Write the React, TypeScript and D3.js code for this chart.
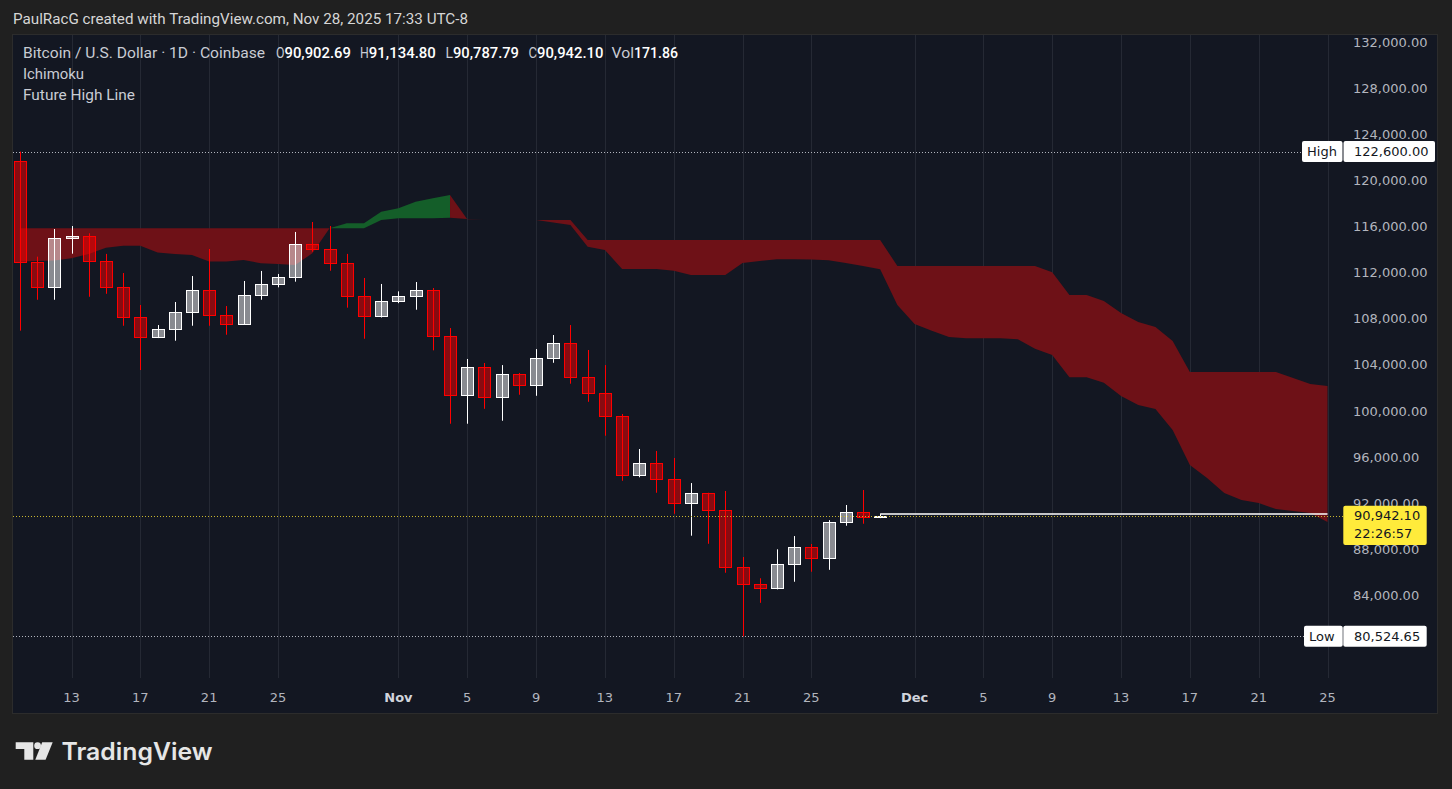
import React from "react";
import * as d3 from "d3";

// ---------- DATA ----------
const candleStart = "2025-10-10T00:00:00Z";
const opens = [121780, 113000, 110820, 115075, 115245, 113080, 110820, 108215, 106475, 107175, 108655, 110560, 108395, 107605, 110120, 111080, 111690, 114555, 114115, 112910, 110045, 108305, 109605, 110045, 110560, 106565, 101445, 103870, 101265, 103265, 102315, 104660, 105960, 103005, 101615, 99620, 94500, 95545, 94150, 92070, 92940, 91465, 86515, 85035, 84695, 86770, 88250, 87290, 90425, 91290, 90902.69];
const highs = [122600, 113480, 115880, 116140, 115510, 113720, 112060, 109285, 107545, 109545, 111800, 114145, 109195, 111370, 112240, 111980, 115625, 116490, 116140, 113720, 111630, 111110, 110470, 111280, 110760, 107285, 104600, 104250, 104070, 103385, 105460, 106680, 107545, 105380, 104070, 99820, 96785, 96615, 96005, 93830, 92990, 93140, 87410, 85565, 88080, 89230, 88540, 90615, 91925, 93225, 91134.8];
const lows = [107060, 109740, 109740, 113740, 110000, 110260, 107485, 103640, 106415, 106185, 107485, 107485, 106705, 107550, 109740, 110820, 111310, 113915, 112260, 109055, 106355, 108200, 109445, 108875, 105350, 98980, 98980, 100275, 99240, 101495, 101405, 104270, 102455, 100885, 97940, 94030, 94330, 92990, 91165, 89260, 88560, 86045, 80524.65, 83435, 84600, 85265, 86135, 86300, 90125, 90300, 90787.79];
const closes = [113000, 110820, 115075, 115245, 113080, 110820, 108215, 106475, 107175, 108655, 110560, 108395, 107605, 110120, 111080, 111690, 114555, 114115, 112910, 110045, 108305, 109605, 110045, 110560, 106565, 101445, 103870, 101265, 103265, 102315, 104660, 105960, 103005, 101615, 99620, 94500, 95545, 94150, 92070, 92940, 91465, 86515, 85035, 84695, 86770, 88250, 87290, 90425, 91290, 90902.69, 90942.1];

// Ichimoku leading spans (cloud), daily from Oct 10 to Dec 25
const cloudStart = "2025-10-10T00:00:00Z";
const spanA = [113065, 113110, 113150, 113340, 113715, 114260, 114435, 114435, 113845, 113715, 113630, 113050, 113050, 113195, 112910, 112850, 112760, 113775, 115945, 116380, 116380, 117385, 117680, 118255, 118550, 118835, 116720, 116720, 116720, 116720, 116665, 116450, 116235, 114350, 114065, 112415, 112415, 112415, 112265, 111890, 111890, 111890, 112935, 113110, 113255, 113255, 113240, 113170, 112935, 112675, 112390, 109285, 107635, 107055, 106505, 106395, 106395, 106395, 106305, 105490, 104945, 103005, 103005, 102535, 101385, 100600, 100255, 98430, 95395, 94265, 92965, 92355, 92095, 91575, 91400, 91225, 90445];
const spanB = [115945, 115945, 115945, 115945, 115945, 115945, 115945, 115945, 115945, 115945, 115945, 115945, 115945, 115945, 115945, 115945, 115945, 115945, 115945, 115945, 115945, 116665, 116815, 116815, 116815, 116865, 116760, 116720, 116720, 116720, 116665, 116665, 116665, 114930, 114930, 114930, 114930, 114930, 114930, 114930, 114930, 114930, 114930, 114930, 114930, 114930, 114930, 114930, 114930, 114930, 114930, 112675, 112675, 112675, 112675, 112675, 112675, 112675, 112675, 112675, 112125, 110150, 110150, 109630, 108590, 107810, 107375, 106160, 103470, 103470, 103470, 103470, 103470, 103470, 102950, 102430, 102255];

const priceTicks = [132000, 128000, 124000, 120000, 116000, 112000, 108000, 104000, 100000, 96000, 92000, 88000, 84000];
const timeTickDates = ["2025-10-13", "2025-10-17", "2025-10-21", "2025-10-25", "2025-11-01", "2025-11-05", "2025-11-09", "2025-11-13", "2025-11-17", "2025-11-21", "2025-11-25", "2025-12-01", "2025-12-05", "2025-12-09", "2025-12-13", "2025-12-17", "2025-12-21", "2025-12-25"];
const timeTickLabels = ["13", "17", "21", "25", "Nov", "5", "9", "13", "17", "21", "25", "Dec", "5", "9", "13", "17", "21", "25"];

const rangeHigh = 122600;
const rangeLow = 80524.65;
const lastPrice = 90942.1;
const countdown = "22:26:57";
const futureHigh = 91134.8;

const headerText = "PaulRacG created with TradingView.com, Nov 28, 2025 17:33 UTC-8";
const symbolText = "Bitcoin / U.S. Dollar \u00b7 1D \u00b7 Coinbase";
const ohlcLabels = ["O", "H", "L", "C", "Vol"];
const ohlcValues = ["90,902.69", "91,134.80", "90,787.79", "90,942.10", "171.86"];
const indicatorNames = ["Ichimoku", "Future High Line"];

// ---------- STYLE ----------
const PAGE_BG = "#202020";
const PLOT_BG = "#131722";
const GRID = "#252934";
const AXIS_TEXT = "#b2b5be";
const CLOUD_RED = "#6e1117";
const CLOUD_GREEN = "#145e29";
const AXIS_FONT = "'DejaVu Sans', sans-serif";
const UI_FONT = "Roboto, 'Noto Sans', sans-serif";

const fmt = d3.format(",.2f");

export default function App() {
  const x = d3
    .scaleUtc()
    .domain([new Date("2025-10-13T00:00:00Z"), new Date("2025-12-25T00:00:00Z")])
    .range([71.5, 1327.5]);
  const y = d3.scaleLinear().domain([84000, 132000]).range([596.3, 43.3]);

  const cStart = new Date(candleStart);
  const candleX = opens.map((_, i) => x(d3.utcDay.offset(cStart, i)));
  const clStart = new Date(cloudStart);
  const cloudX = spanA.map((_, i) => x(d3.utcDay.offset(clStart, i)));

  // group cloud segments into runs of the same colour
  const runs: { bull: boolean; from: number; to: number }[] = [];
  for (let i = 0; i < spanA.length - 1; i++) {
    const bull = spanA[i + 1] > spanB[i + 1];
    const last = runs[runs.length - 1];
    if (last && last.bull === bull) last.to = i + 1;
    else runs.push({ bull, from: i, to: i + 1 });
  }
  const area = d3
    .area<number>()
    .x((i) => cloudX[i])
    .y0((i) => y(spanA[i]))
    .y1((i) => y(spanB[i]));

  const yHigh = Math.round(y(rangeHigh)) + 0.5;
  const yLow = Math.round(y(rangeLow)) + 0.5;
  const yLast = Math.round(y(lastPrice)) + 0.5;
  const lastIdx = opens.length - 1;
  const xFutureStart = candleX[lastIdx];
  const xFutureEnd = cloudX[cloudX.length - 1];

  const legendXs = [276, 360, 445.5, 528.5, 611.5];
  const valueXs = [284.5, 368.8, 453, 537, 634];
  const valueWs = [66.5, 67, 66, 66.5, 44];
  const labelWs = [8.5, 8.8, 7.5, 8.5, 22.5];

  return (
    <svg
      width={1452}
      height={789}
      style={{ position: "absolute", left: 0, top: 0, display: "block" }}
    >
      <rect x={0} y={0} width={1452} height={789} fill={PAGE_BG} />
      <text x={13} y={23.5} fill="#d6d6d6" fontFamily={UI_FONT} fontSize={14.5} textLength={455} lengthAdjust="spacingAndGlyphs">
        {headerText}
      </text>

      {/* chart panel */}
      <rect x={12.5} y={34.5} width={1425} height={679} fill={PLOT_BG} stroke="#2c2c2c" strokeWidth={1} />

      {/* vertical grid */}
      {timeTickDates.map((d, i) => {
        const gx = Math.round(x(new Date(d + "T00:00:00Z"))) + 0.5;
        return <line key={"g" + i} x1={gx} x2={gx} y1={35} y2={678} stroke={GRID} strokeWidth={1} />;
      })}

      {/* Ichimoku cloud */}
      {runs.map((r, i) => (
        <path
          key={"c" + i}
          d={area(d3.range(r.from, r.to + 1)) || ""}
          fill={r.bull ? CLOUD_GREEN : CLOUD_RED}
        />
      ))}

      {/* candles */}
      {opens.map((o, i) => {
        const c = closes[i];
        const up = c >= o;
        const stroke = up ? "#ffffff" : "#ff0000";
        const fill = up ? "rgba(255,255,255,0.5)" : "rgba(255,0,0,0.5)";
        const cx = Math.round(candleX[i]);
        const yt = Math.round(y(Math.max(o, c)));
        const yb = Math.round(y(Math.min(o, c)));
        const yh = y(highs[i]);
        const yl = y(lows[i]);
        const bh = Math.max(1, yb - yt);
        return (
          <g key={"k" + i}>
            <rect x={cx} y={yh} width={1} height={Math.max(0.5, yl - yh)} fill={stroke} />
            <rect x={cx - 5.5} y={yt + 0.5} width={12} height={bh} fill={fill} stroke={stroke} strokeWidth={1} />
          </g>
        );
      })}

      {/* high / low / last price lines */}
      <line x1={13} x2={1302} y1={yHigh} y2={yHigh} stroke="#b2b5be" strokeWidth={1} strokeDasharray="1 2" />
      <line x1={13} x2={1304} y1={yLow} y2={yLow} stroke="#b2b5be" strokeWidth={1} strokeDasharray="1 2" />
      <line x1={13} x2={1343} y1={yLast} y2={yLast} stroke="#c7b52f" strokeWidth={1} strokeDasharray="1 2" />

      {/* Future High Line */}
      <line x1={xFutureStart} x2={xFutureEnd} y1={y(futureHigh)} y2={y(futureHigh)} stroke="#ffffff" strokeWidth={1.5} />

      {/* price axis labels */}
      {priceTicks.map((p) => (
        <text key={"p" + p} x={1353} y={y(p) + 3.6} fill={AXIS_TEXT} fontFamily={AXIS_FONT} fontSize={13}>
          {fmt(p)}
        </text>
      ))}

      {/* time axis labels */}
      {timeTickDates.map((d, i) => {
        const lx = x(new Date(d + "T00:00:00Z"));
        const month = timeTickLabels[i] === "Nov" || timeTickLabels[i] === "Dec";
        return (
          <text
            key={"t" + i}
            x={lx}
            y={701.5}
            textAnchor="middle"
            fill={month ? "#d1d4dc" : AXIS_TEXT}
            fontWeight={month ? "bold" : "normal"}
            fontFamily={AXIS_FONT}
            fontSize={13}
          >
            {timeTickLabels[i]}
          </text>
        );
      })}

      {/* High label */}
      <g>
        <rect x={1302} y={y(rangeHigh) - 10.5} width={40.5} height={21} rx={2} fill="#ffffff" />
        <rect x={1343.5} y={y(rangeHigh) - 10.5} width={91.5} height={21} rx={2} fill="#ffffff" />
        <text x={1307} y={y(rangeHigh) + 4.6} fill="#131722" fontFamily={AXIS_FONT} fontSize={13}>High</text>
        <text x={1354} y={y(rangeHigh) + 4.6} fill="#131722" fontFamily={AXIS_FONT} fontSize={13}>{fmt(rangeHigh)}</text>
      </g>
      {/* Low label */}
      <g>
        <rect x={1304} y={y(rangeLow) - 10.5} width={38.7} height={21} rx={2} fill="#ffffff" />
        <rect x={1343.3} y={y(rangeLow) - 10.5} width={83.4} height={21} rx={2} fill="#ffffff" />
        <text x={1309} y={y(rangeLow) + 4.6} fill="#131722" fontFamily={AXIS_FONT} fontSize={13}>Low</text>
        <text x={1354} y={y(rangeLow) + 4.6} fill="#131722" fontFamily={AXIS_FONT} fontSize={13}>{fmt(rangeLow)}</text>
      </g>
      {/* last price label */}
      <g>
        <rect x={1343.3} y={y(lastPrice) - 10.6} width={83.4} height={39.3} rx={2} fill="#ffeb3b" />
        <text x={1354} y={y(lastPrice) + 4} fill="#131722" fontFamily={AXIS_FONT} fontSize={13}>{fmt(lastPrice)}</text>
        <text x={1354} y={y(lastPrice) + 22} fill="#131722" fontFamily={AXIS_FONT} fontSize={13}>{countdown}</text>
      </g>

      {/* legend */}
      <text x={23} y={58} fill="#c9ccd4" fontFamily={UI_FONT} fontSize={14} textLength={242} lengthAdjust="spacingAndGlyphs">
        {symbolText}
      </text>
      {ohlcLabels.map((l, i) => (
        <g key={"l" + i}>
          <text x={legendXs[i]} y={58} fill="#c9ccd4" fontFamily={UI_FONT} fontSize={14} textLength={labelWs[i]} lengthAdjust="spacingAndGlyphs">
            {l}
          </text>
          <text x={valueXs[i]} y={58} fill="#ffffff" fontFamily={UI_FONT} fontWeight={500} fontSize={14} textLength={valueWs[i]} lengthAdjust="spacingAndGlyphs">
            {ohlcValues[i]}
          </text>
        </g>
      ))}
      <text x={23} y={79} fill="#c9ccd4" fontFamily={UI_FONT} fontSize={14} textLength={61} lengthAdjust="spacingAndGlyphs">
        {indicatorNames[0]}
      </text>
      <text x={23} y={100} fill="#c9ccd4" fontFamily={UI_FONT} fontSize={14} textLength={112} lengthAdjust="spacingAndGlyphs">
        {indicatorNames[1]}
      </text>

      {/* TradingView logo */}
      <g fill="#e6e6e6">
        <path d="M15.7 742.3 H33.3 V759.7 H24.3 V749 H15.7 Z" />
        <circle cx={37.6} cy={745.7} r={3.4} />
        <path d="M42.2 742.3 H52.7 L45.6 759.7 H35.3 Z" />
        <text x={61.5} y={759.8} fontFamily="Inter, Roboto, sans-serif" fontWeight={600} fontSize={24} textLength={151} lengthAdjust="spacingAndGlyphs">
          TradingView
        </text>
      </g>
    </svg>
  );
}
